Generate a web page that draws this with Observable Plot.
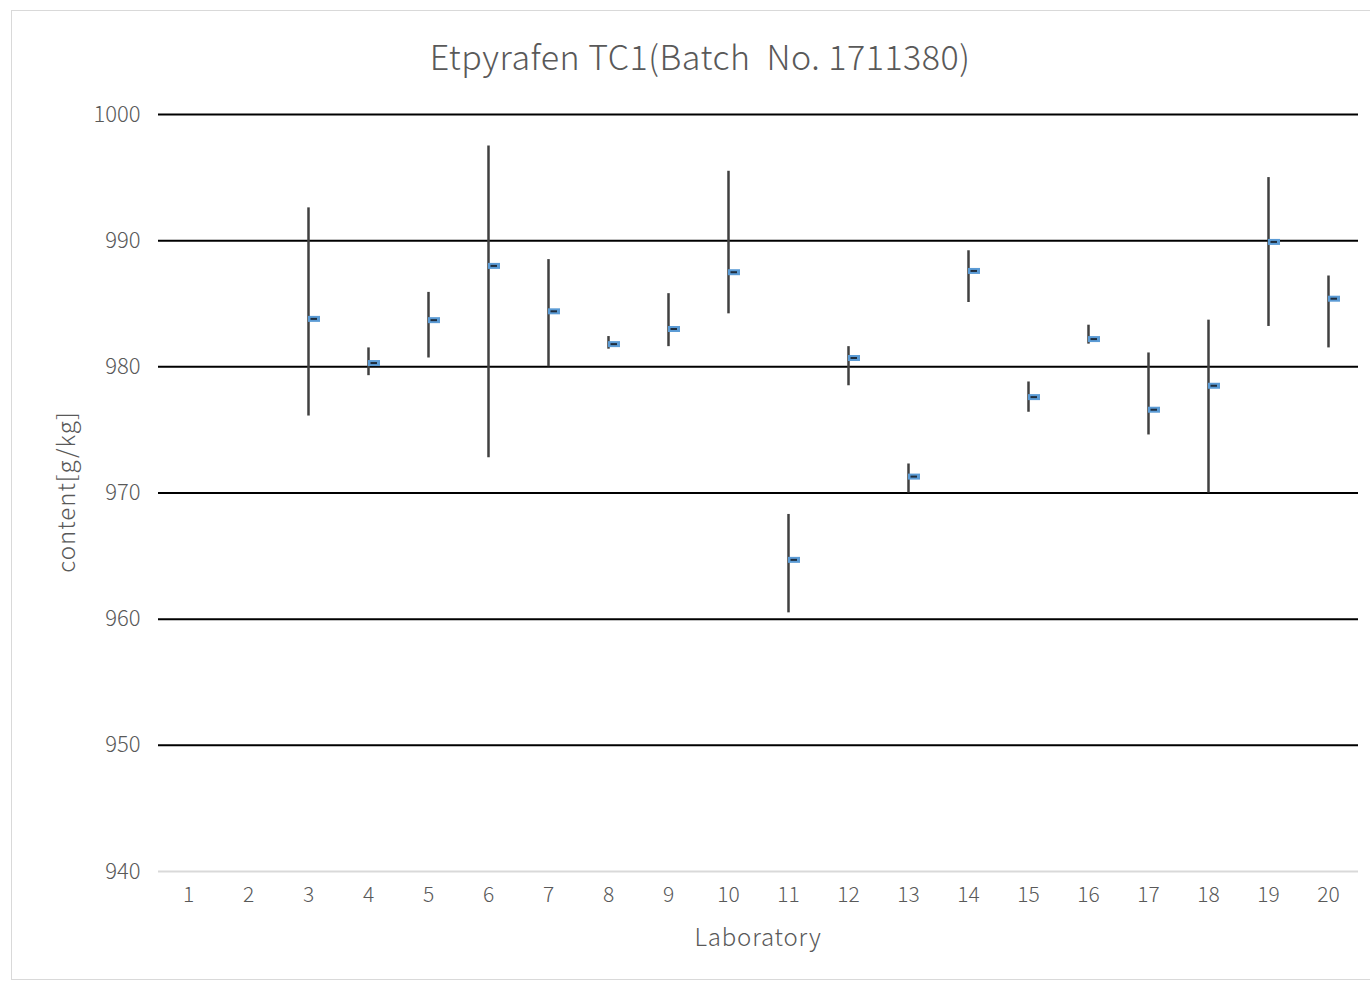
<!DOCTYPE html>
<html>
<head>
<meta charset="utf-8">
<script src="https://cdn.jsdelivr.net/npm/d3@7"></script>
<script src="https://cdn.jsdelivr.net/npm/@observablehq/plot@0.6"></script>
<style>
  html, body { margin: 0; padding: 0; background: #fff; }
  #wrap { position: relative; width: 1370px; height: 982px; overflow: hidden; font-family: "Noto Sans CJK SC", "Noto Sans", sans-serif; }
  #frame { position: absolute; left: 11px; top: 10px; width: 1400px; height: 970px; border: 1.5px solid #d9d9d9; box-sizing: border-box; }
  #title { position: absolute; left: 158px; width: 1084px; top: 55px; transform: translateY(-50%); text-align: center; font-size: 34px; font-weight: 300; color: #595959; white-space: pre; letter-spacing: 0.5px; }
  #xlab { position: absolute; left: 158px; width: 1200px; top: 935px; transform: translateY(-50%); text-align: center; font-size: 24px; font-weight: 300; color: #595959; letter-spacing: 0.8px; }
  #ylab { position: absolute; left: 64px; top: 492px; transform: translate(-50%, -50%) rotate(-90deg); font-size: 24px; font-weight: 300; color: #595959; white-space: nowrap; letter-spacing: 1px; }
  #chart { position: absolute; left: 0; top: 0; }
</style>
</head>
<body>
<div id="wrap">
  <div id="frame"></div>
  <div id="chart"></div>
  <div id="title">Etpyrafen TC1(Batch  No. 1711380)</div>
  <div id="xlab">Laboratory</div>
  <div id="ylab">content[g/kg]</div>
</div>
<script>
const labs = ["1","2","3","4","5","6","7","8","9","10","11","12","13","14","15","16","17","18","19","20"];
const highs = [null, null, 992.6, 981.5, 985.9, 997.5, 988.5, 982.4, 985.8, 995.5, 968.3, 981.6, 972.3, 989.2, 978.8, 983.3, 981.1, 983.7, 995.0, 987.2];
const lows  = [null, null, 976.1, 979.3, 980.7, 972.8, 980.0, 981.4, 981.6, 984.2, 960.5, 978.5, 970.0, 985.1, 976.4, 981.8, 974.6, 970.0, 983.2, 981.5];
const means = [null, null, 983.8, 980.3, 983.7, 988.0, 984.4, 981.8, 983.0, 987.5, 964.7, 980.7, 971.3, 987.6, 977.6, 982.2, 976.6, 978.5, 989.9, 985.4];
const yTicks = [940, 950, 960, 970, 980, 990, 1000];
const gridLines = [950, 960, 970, 980, 990, 1000];

const data = labs.map((l, i) => ({lab: l, high: highs[i], low: lows[i], mean: means[i]})).filter(d => d.mean != null);

const chart = Plot.plot({
  width: 1370,
  height: 982,
  marginLeft: 158,
  marginRight: 12,
  marginTop: 114,
  marginBottom: 111,
  style: {fontFamily: "'Noto Sans CJK SC', 'Noto Sans', sans-serif", fontSize: "20px", color: "#595959", background: "transparent"},
  x: {type: "band", domain: labs, padding: 0},
  y: {domain: [940, 1000]},
  marks: [
    Plot.ruleY(gridLines, {stroke: "#000", strokeWidth: 2}),
    Plot.ruleY([940], {stroke: "#d9d9d9", strokeWidth: 2}),
    Plot.axisY({ticks: yTicks, tickFormat: d => String(d), tickSize: 0, tickPadding: 18, label: null, fill: "#595959", fontWeight: 300, fontSize: 22}),
    Plot.axisX({tickSize: 0, tickPadding: 16, label: null, fill: "#595959", fontWeight: 300, fontSize: 21}),
    Plot.ruleX(data, {x: "lab", y1: "low", y2: "high", stroke: "#404040", strokeWidth: 2.5}),
    Plot.tickY(data, {x: "lab", y: "mean", stroke: "#5b9bd5", strokeWidth: 6, insetLeft: 30, insetRight: 18}),
    Plot.tickY(data, {x: "lab", y: "mean", stroke: "#1f2d3d", strokeWidth: 2, insetLeft: 32.5, insetRight: 21})
  ]
});
document.getElementById("chart").appendChild(chart);
</script>
</body>
</html>
